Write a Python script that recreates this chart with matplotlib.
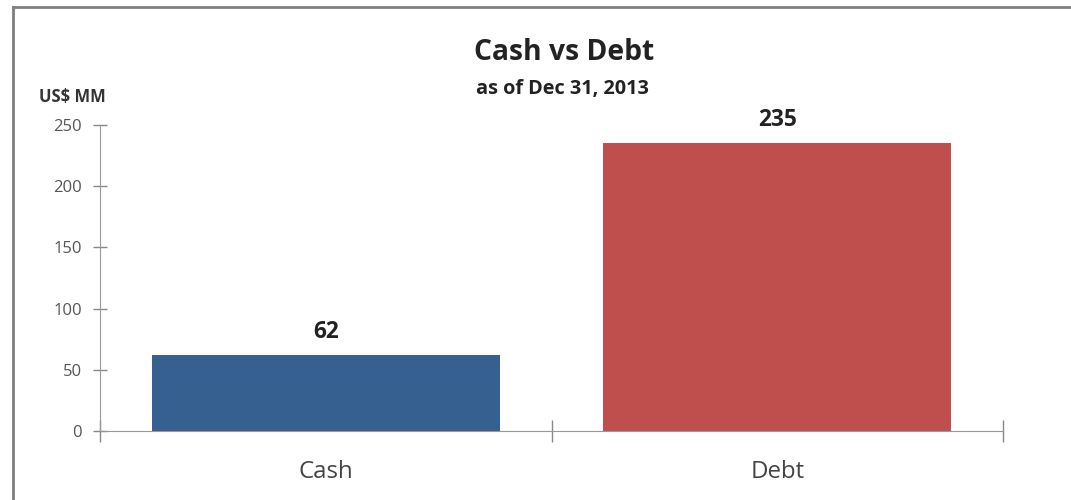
import matplotlib.pyplot as plt
from matplotlib.lines import Line2D

# Datos
categories = ["Cash", "Debt"]
values = [62, 235]
colors = ["#35608F", "#BE4F4C"]
y_ticks = [0, 50, 100, 150, 200, 250]

plt.rcParams["font.family"] = ["Open Sans", "DejaVu Sans"]

fig = plt.figure(figsize=(10.71, 5.0), dpi=100)
ax = fig.add_axes([100 / 1071, 0.138, 903 / 1071, 0.612])

x = range(len(categories))
ax.bar(x, values, width=0.77, color=colors)

# etiquetas de valor sobre las barras
for xi, v in zip(x, values):
    ax.text(xi, v + 9, str(v), ha="center", va="bottom",
            fontsize=16.3, fontweight="bold", color="#222222")

ax.set_xlim(-0.5, 1.5)
ax.set_ylim(0, 250)
ax.set_yticks(y_ticks)
ax.tick_params(axis="y", labelsize=12, colors="#888888", labelcolor="#555555",
               direction="inout", length=10, width=1, pad=8)

# separadores de categorias en el eje x
ax.set_xticks([-0.5, 0.5, 1.5])
ax.set_xticklabels([])
ax.tick_params(axis="x", colors="#888888", direction="inout", length=16, width=1)
for xi, c in zip(x, categories):
    ax.text(xi, -24, c, ha="center", va="top", fontsize=17.3, color="#444444")

for s in ["top", "right"]:
    ax.spines[s].set_visible(False)
for s in ["left", "bottom"]:
    ax.spines[s].set_color("#999999")

fig.text(0.527, 0.894, "Cash vs Debt", ha="center", va="center",
         fontsize=20.3, fontweight="bold", color="#222222")
fig.text(0.525, 0.822, "as of Dec 31, 2013", ha="center", va="center",
         fontsize=14.3, fontweight="bold", color="#222222")
fig.text(0.036, 0.806, "US$ MM", ha="left", va="center",
         fontsize=12, fontweight="bold", color="#333333")

# marco exterior
fig.add_artist(Line2D([13 / 1071, 1.0], [1 - 7 / 500] * 2, color="#808080", lw=2))
fig.add_artist(Line2D([13 / 1071] * 2, [0.0, 1 - 7 / 500], color="#808080", lw=2))

fig.savefig("out.png", dpi=100)
